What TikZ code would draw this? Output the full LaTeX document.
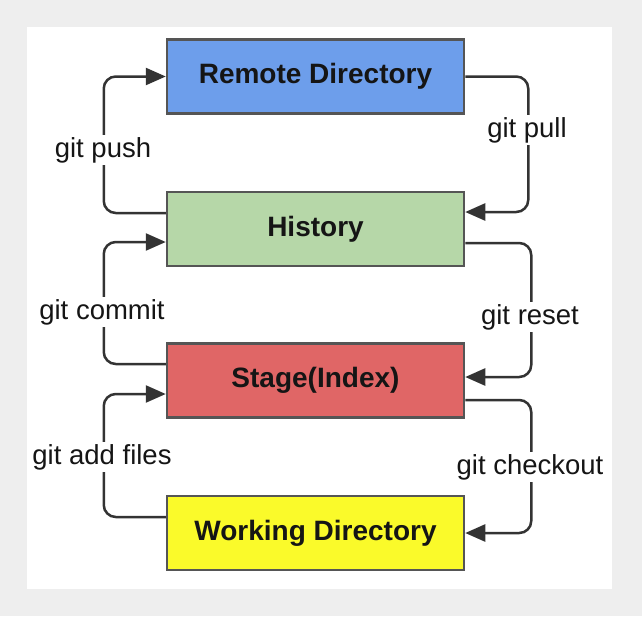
\documentclass[tikz,border=0pt]{standalone}
\usepackage{fontspec}
\setmainfont{Liberation Sans}
\usetikzlibrary{arrows.meta}
\definecolor{bggrey}{HTML}{EEEEEE}
\definecolor{boxblue}{HTML}{6D9EEB}
\definecolor{boxgreen}{HTML}{B6D7A8}
\definecolor{boxred}{HTML}{E06666}
\definecolor{boxyellow}{HTML}{FAFA2A}
\definecolor{edgegrey}{HTML}{555555}
\definecolor{linegrey}{HTML}{333333}
\definecolor{textdark}{HTML}{151515}
\tikzset{
  areabox/.style={draw=edgegrey, line width=2.5pt, minimum width=297pt, minimum height=74pt, inner sep=0pt,
    font=\fontsize{28}{32}\selectfont\bfseries, text=textdark},
  conn/.style={draw=linegrey, line width=2.5pt, rounded corners=12pt, -{Triangle[length=20pt,width=17pt]}},
  cmdlabel/.style={fill=white, inner sep=2pt, font=\fontsize{27.5}{32}\selectfont, text=textdark}
}
\begin{document}
\begin{tikzpicture}[x=1pt,y=-1pt]
\useasboundingbox (0,0) rectangle (642,616);
\fill[bggrey] (0,0) rectangle (642,616);
\fill[white] (27,27) rectangle (612,589);

\node[areabox, fill=boxblue]   (remote) at (315.5,76.5) {Remote Directory};
\node[areabox, fill=boxgreen]  (hist)   at (315.5,229)  {History};
\node[areabox, fill=boxred]    (stage)  at (315.5,380.5) {Stage(Index)};
\node[areabox, fill=boxyellow] (work)   at (315.5,533)  {Working Directory};

% left side
\draw[conn] ([yshift=16pt]hist.west) -- ++(-62,0) |- (remote.west);
\draw[conn] ([yshift=16.5pt]stage.west) -- ++(-62,0) |- ([yshift=-13pt]hist.west);
\draw[conn] ([yshift=16pt]work.west) -- ++(-62,0) |- ([yshift=-13.5pt]stage.west);
% right side
\draw[conn] (remote.east) -- ++(63,0) |- ([yshift=17pt]hist.east);
\draw[conn] ([yshift=-14pt]hist.east) -- ++(66,0) |- ([yshift=3.5pt]stage.east);
\draw[conn] ([yshift=-19.5pt]stage.east) -- ++(66,0) |- (work.east);

\node[cmdlabel] (lpush)   at (103,150) {git push};
\node[cmdlabel] (lcommit) at (102,312) {git commit};
\node[cmdlabel] (ladd)    at (102,457) {git add files};
\node[cmdlabel] (lpull)   at (527,130) {git pull};
\node[cmdlabel] (lreset)  at (530,317) {git reset};
\node[cmdlabel] (lcheck)  at (530,467) {git checkout};
\end{tikzpicture}
\end{document}
